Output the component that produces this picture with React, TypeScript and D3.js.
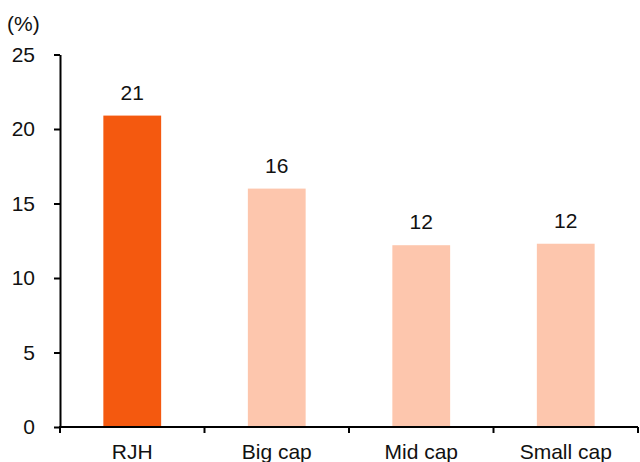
import React, { useEffect, useRef } from 'react';
import * as d3 from 'd3';

const categories = ['RJH', 'Big cap', 'Mid cap', 'Small cap'];
const values = [20.9, 16.0, 12.2, 12.3];
const labels = ['21', '16', '12', '12'];
const yTicks = [0, 5, 10, 15, 20, 25];

const App: React.FC = () => {
    const ref = useRef<SVGSVGElement>(null);

    useEffect(() => {
        if (!ref.current) return;
        const width = 640;
        const height = 462;
        const margin = { top: 54.5, right: 2, bottom: 35, left: 60 };

        const svg = d3.select(ref.current);
        svg.selectAll('*').remove();

        const x = d3.scaleBand<string>()
            .domain(categories)
            .range([margin.left, width - margin.right])
            .paddingInner(0.6)
            .paddingOuter(0.3);

        const y = d3.scaleLinear()
            .domain([0, 25])
            .range([height - margin.bottom, margin.top]);

        const font = 'Arial, "Liberation Sans", sans-serif';
        const fs = '21px';

        // bars
        svg.append('g')
            .selectAll('rect')
            .data(values)
            .enter()
            .append('rect')
            .attr('x', (d, i) => x(categories[i])!)
            .attr('y', d => y(d))
            .attr('width', x.bandwidth())
            .attr('height', d => y(0) - y(d))
            .attr('fill', (d, i) => (i === 0 ? '#F4590F' : '#FDC6AD'));

        // value labels
        svg.append('g')
            .selectAll('text')
            .data(values)
            .enter()
            .append('text')
            .attr('x', (d, i) => x(categories[i])! + x.bandwidth() / 2)
            .attr('y', d => y(d) - 16)
            .attr('text-anchor', 'middle')
            .style('font-family', font)
            .style('font-size', fs)
            .attr('fill', '#111')
            .text((d, i) => labels[i]);

        // y axis
        const yAxis = svg.append('g')
            .attr('transform', `translate(${margin.left},0)`)
            .call(d3.axisLeft(y).tickValues(yTicks).tickSize(6).tickPadding(19).tickSizeOuter(0));
        yAxis.select('.domain').attr('stroke', '#000').attr('stroke-width', 2);
        yAxis.selectAll('.tick line').attr('stroke', '#000').attr('stroke-width', 2);
        yAxis.selectAll('.tick text')
            .style('font-family', font)
            .style('font-size', fs)
            .attr('fill', '#111');

        // x axis with boundary ticks between categories
        const bounds = d3.range(categories.length + 1).map(i => margin.left + i * x.step());
        const xAxis = svg.append('g').attr('transform', `translate(0,${y(0)})`);
        xAxis.append('line')
            .attr('x1', margin.left - 1)
            .attr('x2', bounds[bounds.length - 1])
            .attr('stroke', '#000')
            .attr('stroke-width', 2);
        xAxis.selectAll('line.b')
            .data(bounds)
            .enter()
            .append('line')
            .attr('class', 'b')
            .attr('x1', d => d)
            .attr('x2', d => d)
            .attr('y1', 0)
            .attr('y2', 6)
            .attr('stroke', '#000')
            .attr('stroke-width', 2);
        xAxis.selectAll('text')
            .data(categories)
            .enter()
            .append('text')
            .attr('x', d => x(d)! + x.bandwidth() / 2)
            .attr('y', 32)
            .attr('text-anchor', 'middle')
            .style('font-family', font)
            .style('font-size', fs)
            .attr('fill', '#111')
            .text(d => d);

        // unit label
        svg.append('text')
            .attr('x', 7)
            .attr('y', 31)
            .style('font-family', font)
            .style('font-size', fs)
            .attr('fill', '#111')
            .text('(%)');
    }, []);

    return (
        <svg
            ref={ref}
            width={640}
            height={462}
            style={{ position: 'absolute', left: 0, top: 0, background: '#fff' }}
        />
    );
};

export default App;
